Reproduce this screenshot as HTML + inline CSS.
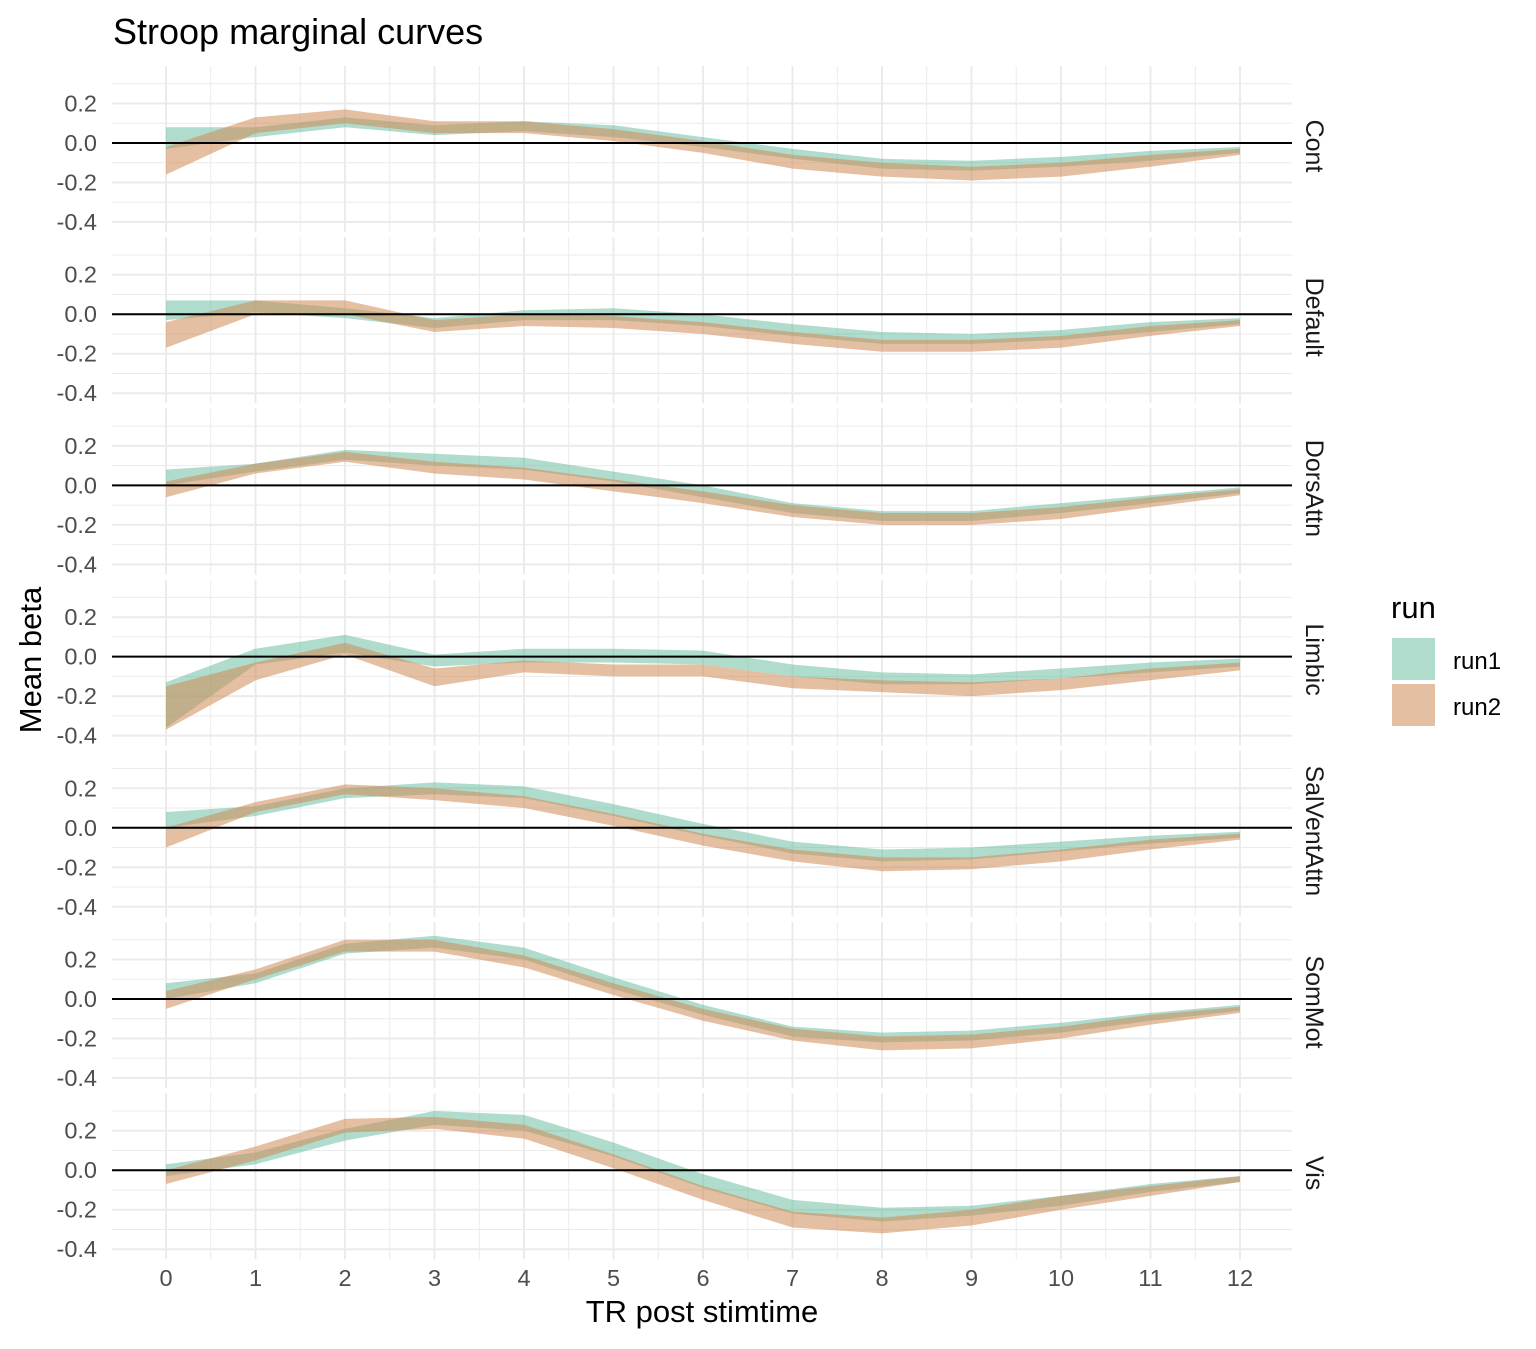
<!DOCTYPE html>
<html><head><meta charset="utf-8"><style>
body{margin:0;background:#fff;}
svg text{font-family:"Liberation Sans",Arial,sans-serif;}
</style></head><body>
<svg id="chart" width="1536" height="1344" xmlns="http://www.w3.org/2000/svg">
<text x="113" y="44" font-size="36" fill="#000">Stroop marginal curves</text>
<text x="702" y="1322" font-size="31" text-anchor="middle" fill="#000">TR post stimtime</text>
<text transform="translate(41,660) rotate(-90)" font-size="31" text-anchor="middle" fill="#000">Mean beta</text>
<g>
<text x="1391" y="618" font-size="31" fill="#000">run</text>
<rect x="1392" y="638" width="43" height="42" fill="#61b99b" fill-opacity="0.5"/>
<rect x="1392" y="684" width="43" height="42" fill="#d08a55" fill-opacity="0.55"/>
<text x="1453" y="669" font-size="24" fill="#000">run1</text>
<text x="1453" y="715" font-size="24" fill="#000">run2</text>
</g>
</svg>
<script>
const xs=[0,1,2,3,4,5,6,7,8,9,10,11,12];
const panels=["Cont","Default","DorsAttn","Limbic","SalVentAttn","SomMot","Vis"];
const yTicks=[-0.4,-0.2,0.0,0.2];
const yTickLabels=["-0.4","-0.2","0.0","0.2"];
const run1Lower=[
[-0.03,0.03,0.08,0.04,0.06,0.03,-0.02,-0.08,-0.13,-0.14,-0.12,-0.09,-0.05],
[-0.03,0.01,-0.02,-0.07,-0.03,-0.03,-0.06,-0.11,-0.15,-0.15,-0.13,-0.09,-0.05],
[0.0,0.07,0.13,0.10,0.08,0.02,-0.06,-0.14,-0.18,-0.18,-0.14,-0.09,-0.04],
[-0.36,-0.04,0.02,-0.05,-0.03,-0.03,-0.04,-0.10,-0.14,-0.14,-0.11,-0.08,-0.05],
[0.0,0.06,0.15,0.17,0.15,0.06,-0.04,-0.13,-0.17,-0.16,-0.12,-0.08,-0.05],
[0.0,0.08,0.23,0.26,0.20,0.05,-0.08,-0.19,-0.22,-0.21,-0.17,-0.11,-0.06],
[-0.03,0.03,0.15,0.23,0.20,0.07,-0.09,-0.22,-0.26,-0.23,-0.18,-0.11,-0.06]];
const run1Upper=[
[0.08,0.08,0.13,0.09,0.11,0.09,0.03,-0.03,-0.08,-0.09,-0.07,-0.04,-0.02],
[0.07,0.07,0.03,-0.02,0.02,0.03,0.0,-0.05,-0.09,-0.10,-0.08,-0.04,-0.02],
[0.08,0.11,0.18,0.16,0.14,0.07,0.0,-0.09,-0.13,-0.13,-0.09,-0.05,-0.01],
[-0.13,0.04,0.11,0.01,0.04,0.04,0.03,-0.04,-0.08,-0.09,-0.06,-0.03,-0.01],
[0.08,0.11,0.20,0.23,0.21,0.12,0.02,-0.07,-0.11,-0.10,-0.07,-0.04,-0.02],
[0.08,0.13,0.28,0.32,0.26,0.11,-0.03,-0.14,-0.17,-0.16,-0.12,-0.07,-0.03],
[0.03,0.09,0.21,0.30,0.28,0.14,-0.02,-0.15,-0.19,-0.18,-0.13,-0.07,-0.03]];
const run2Lower=[
[-0.16,0.05,0.10,0.05,0.05,0.01,-0.05,-0.13,-0.17,-0.19,-0.17,-0.12,-0.06],
[-0.17,0.0,0.0,-0.09,-0.06,-0.07,-0.10,-0.15,-0.19,-0.19,-0.17,-0.11,-0.06],
[-0.06,0.06,0.12,0.06,0.03,-0.03,-0.09,-0.16,-0.20,-0.20,-0.17,-0.11,-0.05],
[-0.37,-0.12,0.01,-0.15,-0.08,-0.10,-0.10,-0.16,-0.18,-0.20,-0.17,-0.12,-0.07],
[-0.10,0.08,0.17,0.14,0.10,0.01,-0.09,-0.17,-0.22,-0.21,-0.17,-0.11,-0.06],
[-0.05,0.10,0.24,0.24,0.16,0.02,-0.11,-0.21,-0.26,-0.25,-0.20,-0.13,-0.07],
[-0.07,0.05,0.19,0.21,0.16,0.01,-0.15,-0.29,-0.32,-0.28,-0.20,-0.13,-0.06]];
const run2Upper=[
[-0.02,0.13,0.17,0.11,0.11,0.07,0.01,-0.06,-0.10,-0.12,-0.10,-0.06,-0.03],
[-0.04,0.07,0.07,-0.03,0.0,-0.01,-0.04,-0.09,-0.13,-0.13,-0.11,-0.06,-0.03],
[0.02,0.11,0.17,0.12,0.09,0.03,-0.03,-0.10,-0.14,-0.14,-0.11,-0.06,-0.02],
[-0.15,-0.03,0.07,-0.06,-0.02,-0.04,-0.04,-0.10,-0.12,-0.13,-0.11,-0.06,-0.03],
[0.0,0.13,0.22,0.20,0.16,0.07,-0.03,-0.11,-0.15,-0.15,-0.11,-0.06,-0.03],
[0.04,0.15,0.30,0.30,0.22,0.08,-0.05,-0.15,-0.19,-0.18,-0.14,-0.08,-0.04],
[0.0,0.12,0.26,0.27,0.23,0.08,-0.08,-0.21,-0.24,-0.20,-0.13,-0.08,-0.03]];

const svg=document.getElementById('chart');
const NS="http://www.w3.org/2000/svg";
const X0=166,XS=89.5,PL=112,PR=1292,YS=197.5,Z0=143,PSTEP=171.2;
function xp(v){return X0+v*XS;}
function mk(tag,attrs,parent){const e=document.createElementNS(NS,tag);for(const k in attrs)e.setAttribute(k,attrs[k]);(parent||svg).appendChild(e);return e;}
panels.forEach((name,k)=>{
  const z=Z0+k*PSTEP;
  const yp=v=>z-v*YS;
  const top=z-77,bot=z+89;
  const g=mk('g',{});
  
  
  [-0.3,-0.1,0.1,0.3].forEach(v=>{const l=mk('line',{x1:PL,x2:PR,y1:yp(v),y2:yp(v),stroke:'#ebebeb','stroke-width':1},g);});
  for(let i=0;i<12;i++){const xv=xp(i+0.5);const l=mk('line',{x1:xv,x2:xv,y1:top,y2:bot,stroke:'#ebebeb','stroke-width':1},g);}
  yTicks.forEach(v=>{const l=mk('line',{x1:PL,x2:PR,y1:yp(v),y2:yp(v),stroke:'#ebebeb','stroke-width':2},g);});
  xs.forEach(v=>{const l=mk('line',{x1:xp(v),x2:xp(v),y1:top,y2:bot,stroke:'#ebebeb','stroke-width':2},g);});
  [[run1Lower,run1Upper,'#61b99b',0.5,'run1'],[run2Lower,run2Upper,'#d08a55',0.55,'run2']].forEach(([lo,up,col,op,rn])=>{
    let d='';
    xs.forEach((x,i)=>{d+=(i?'L':'M')+xp(x)+','+yp(up[k][i]);});
    for(let i=xs.length-1;i>=0;i--)d+='L'+xp(xs[i])+','+yp(lo[k][i]);
    const p=mk('path',{d:d+'Z',fill:col,'fill-opacity':op},g);
    
    
  });
  const zl=mk('line',{x1:PL,x2:PR,y1:yp(0),y2:yp(0),stroke:'#000','stroke-width':2},g);
  
  
  yTicks.forEach((v,i)=>{const t=mk('text',{x:97,y:yp(v)+8,'font-size':23.5,'text-anchor':'end',fill:'#4d4d4d'},g);t.textContent=yTickLabels[i];});
  const s=mk('text',{transform:'translate(1306,'+(z+3)+') rotate(90)','font-size':25,'text-anchor':'middle',fill:'#1a1a1a'},g);
  s.textContent=name;
  
  
});
xs.forEach(v=>{const t=mk('text',{x:xp(v),y:1286,'font-size':23.5,'text-anchor':'middle',fill:'#4d4d4d'});t.textContent=String(v);});
</script>
</body></html>
